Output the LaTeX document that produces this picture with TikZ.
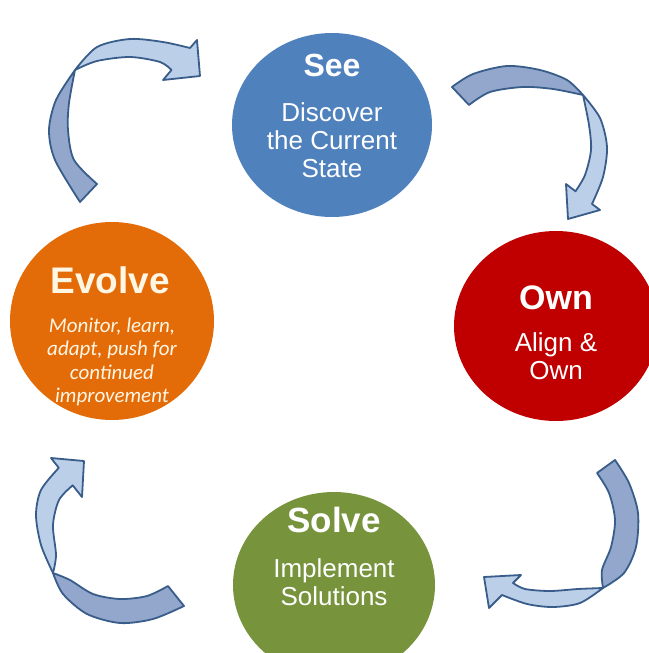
\documentclass[tikz,border=0pt]{standalone}
\usepackage{fontspec}
\setmainfont{Liberation Sans}
\newfontfamily\calib{Carlito}
\usetikzlibrary{shapes.geometric}

\definecolor{seeblue}{RGB}{79,129,189}
\definecolor{ownred}{RGB}{192,0,0}
\definecolor{solvegreen}{RGB}{119,147,60}
\definecolor{evolveorange}{RGB}{227,108,9}
\definecolor{arrowline}{RGB}{56,93,138}
\definecolor{arrowfront}{RGB}{188,207,232}
\definecolor{arrowback}{RGB}{146,167,203}
\definecolor{cream}{RGB}{255,246,228}

\tikzset{
  stage/.style={ellipse, draw=none, inner sep=0pt},
  ttl/.style={text=white, font=\bfseries\fontsize{#1}{#1}\selectfont},
  sub/.style={text=white, align=center, font=\fontsize{26}{28}\selectfont},
  backface/.style={fill=arrowback, draw=arrowline, line width=1.8pt, line join=round},
  frontface/.style={fill=arrowfront, draw=arrowline, line width=1.8pt, line join=round},
}

\begin{document}
\begin{tikzpicture}[x=1pt, y=-1pt]
\useasboundingbox (0,0) rectangle (648,653);

% the four stages
\node[stage, fill=seeblue, minimum width=200pt, minimum height=184pt] (see) at (332,125) {};
\node[stage, fill=ownred, minimum width=204pt, minimum height=190pt] (own) at (556,326) {};
\node[stage, fill=solvegreen, minimum width=202pt, minimum height=186pt] (solve) at (334,585) {};
\node[stage, fill=evolveorange, minimum width=204pt, minimum height=198pt] (evolve) at (112,321) {};

\node[ttl=32] (seeT) at (332,65) {See};
\node[sub] (seeS) at (332,140) {Discover\\the Current\\State};

\node[ttl=34] (ownT) at (556,298) {Own};
\node[sub] (ownS) at (556,356) {Align \&\\Own};

\node[ttl=35] (solveT) at (334,520) {Solve};
\node[sub] (solveS) at (334,582) {Implement\\Solutions};

\node[ttl=37, text=cream] (evolveT) at (110,280) {Evolve};
\node[text=cream, align=center, font=\calib\itshape\fontsize{21}{23.3}\selectfont] (evolveS) at (112,362)
  {Monitor, learn,\\adapt, push for\\continued\\improvement};

% circular arrows: twisted back part, then front part with head
% top left
\filldraw[backface] (80,202) -- plot[smooth] coordinates {(80,202) (55,160) (49,130) (56,100) (75,70)}
  -- plot[smooth] coordinates {(75,70) (69,103) (68,130) (74,160) (97,184)} -- cycle;
\filldraw[frontface] plot[smooth] coordinates {(75,70) (97,47) (130,39) (163,42) (190,48)}
  -- (197,40) -- (200,76) -- (163,80) -- (171.5,70)
  -- plot[smooth] coordinates {(171.5,70) (160,62) (130,57) (97,61) (75,70)} -- cycle;

% top right
\filldraw[backface] (452,87) -- plot[smooth] coordinates {(452,87) (473,74) (507,66) (540,70) (567,80) (583,95)}
  -- plot[smooth] coordinates {(583,95) (553,89) (523,87) (490,92) (469,105)} -- cycle;
\filldraw[frontface] plot[smooth] coordinates {(583,95) (600,118) (607,147) (603,177) (592,204)}
  -- (600,210) -- (568,219) -- (566,184) -- (575.5,191.3)
  -- plot[smooth] coordinates {(575.5,191.3) (585,175) (591,150) (589,125) (583,95)} -- cycle;

% bottom right
\filldraw[backface] (615,460) -- plot[smooth] coordinates {(615,460) (629,483) (638,513) (636,547) (624,573) (603,588)}
  -- plot[smooth] coordinates {(603,588) (602,570) (611,547) (615,520) (609,493) (597,473)} -- cycle;
\filldraw[frontface] plot[smooth] coordinates {(603,588) (580,603) (553,607) (527,604) (502,595)}
  -- (489,608) -- (484,577) -- (521,575) -- (513,583)
  -- plot[smooth] coordinates {(513,583) (525,589) (550,591) (578,589) (603,588)} -- cycle;

% bottom left
\filldraw[backface] (184,606) -- plot[smooth] coordinates {(184,606) (153,619) (120,623) (87,614) (63,594) (53,573)}
  -- plot[smooth] coordinates {(53,573) (70,580) (93,594) (120,599) (147,596) (168,586)} -- cycle;
\filldraw[frontface] plot[smooth] coordinates {(53,573) (41,545) (36,515) (41,490) (58.8,467.8)}
  -- (51,458) -- (84,461) -- (82,497) -- (72.7,485.3)
  -- plot[smooth] coordinates {(72.7,485.3) (59,500) (53,525) (56,555) (53,573)} -- cycle;
\end{tikzpicture}
\end{document}
